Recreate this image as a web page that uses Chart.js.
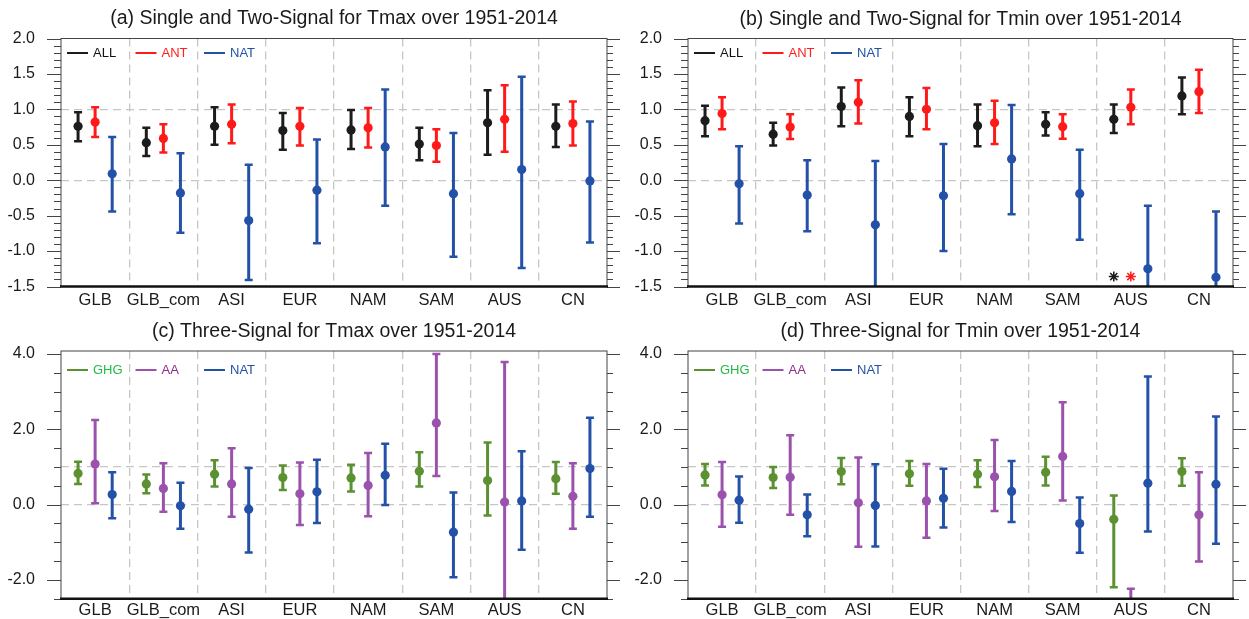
<!DOCTYPE html>
<html>
<head>
<meta charset="utf-8">
<script src="https://cdn.jsdelivr.net/npm/chart.js@4/dist/chart.umd.min.js"></script>
<style>
  body { margin: 0; background: #fff; }
  canvas { position: absolute; }
</style>
</head>
<body>
<canvas id="panelA" width="620" height="310" style="left:0;top:0"></canvas>
<canvas id="panelB" width="629" height="310" style="left:620px;top:0"></canvas>
<canvas id="panelC" width="620" height="309" style="left:0;top:310px"></canvas>
<canvas id="panelD" width="629" height="309" style="left:620px;top:310px"></canvas>
<script>
const regions = ['GLB', 'GLB_com', 'ASI', 'EUR', 'NAM', 'SAM', 'AUS', 'CN'];

// y tick labels
const twoSignalTicks = [-1.5, -1.0, -0.5, 0.0, 0.5, 1.0, 1.5, 2.0];
const threeSignalTicks = [-2.0, 0.0, 2.0, 4.0];

// (a) Tmax, single and two-signal scaling factors (best estimate, 5-95% range)
const tmaxAll     = [0.76, 0.53, 0.76, 0.70, 0.71, 0.51, 0.81, 0.76];
const tmaxAllLow  = [0.55, 0.34, 0.50, 0.43, 0.44, 0.28, 0.36, 0.47];
const tmaxAllHigh = [0.96, 0.74, 1.03, 0.95, 0.99, 0.74, 1.27, 1.07];
const tmaxAnt     = [0.82, 0.59, 0.79, 0.76, 0.74, 0.49, 0.86, 0.80];
const tmaxAntLow  = [0.61, 0.39, 0.52, 0.49, 0.46, 0.26, 0.40, 0.49];
const tmaxAntHigh = [1.03, 0.79, 1.07, 1.02, 1.02, 0.72, 1.34, 1.11];
const tmaxNat     = [0.09, -0.18, -0.57, -0.14, 0.47, -0.19, 0.15, -0.01];
const tmaxNatLow  = [-0.44, -0.74, -1.41, -0.89, -0.36, -1.08, -1.24, -0.88];
const tmaxNatHigh = [0.61, 0.38, 0.22, 0.575, 1.28, 0.665, 1.46, 0.83];

// (b) Tmin, single and two-signal
const tminAll     = [0.84, 0.65, 1.04, 0.90, 0.77, 0.79, 0.86, 1.19];
const tminAllLow  = [0.62, 0.49, 0.76, 0.62, 0.48, 0.63, 0.665, 0.93];
const tminAllHigh = [1.05, 0.81, 1.31, 1.17, 1.07, 0.96, 1.07, 1.45];
const tminAnt     = [0.94, 0.75, 1.10, 1.00, 0.81, 0.755, 1.03, 1.25];
const tminAntLow  = [0.72, 0.58, 0.80, 0.72, 0.51, 0.585, 0.79, 0.95];
const tminAntHigh = [1.17, 0.93, 1.41, 1.30, 1.12, 0.93, 1.28, 1.56];
const tminNat     = [-0.05, -0.21, -0.63, -0.22, 0.30, -0.19, -1.25, -1.37];
const tminNatLow  = [-0.61, -0.72, -1.80, -1.00, -0.48, -0.84, -2.10, -2.30];
const tminNatHigh = [0.48, 0.28, 0.27, 0.51, 1.06, 0.43, -0.36, -0.44];
// asterisks under AUS
const tminStarAll = [null, null, null, null, null, null, -1.36, null];
const tminStarAnt = [null, null, null, null, null, null, -1.36, null];

// (c) Tmax, three-signal
const tmaxGhg     = [0.83, 0.55, 0.81, 0.72, 0.71, 0.885, 0.64, 0.69];
const tmaxGhgLow  = [0.55, 0.30, 0.48, 0.39, 0.35, 0.48, -0.29, 0.29];
const tmaxGhgHigh = [1.14, 0.80, 1.18, 1.04, 1.06, 1.39, 1.65, 1.13];
const tmaxAa      = [1.08, 0.43, 0.55, 0.29, 0.51, 2.17, 0.07, 0.22];
const tmaxAaLow   = [0.035, -0.19, -0.32, -0.54, -0.31, 0.76, -3.50, -0.64];
const tmaxAaHigh  = [2.25, 1.10, 1.50, 1.12, 1.37, 4.00, 3.79, 1.10];
const tmaxNat3     = [0.27, -0.03, -0.12, 0.34, 0.78, -0.73, 0.10, 0.96];
const tmaxNat3Low  = [-0.36, -0.64, -1.27, -0.49, -0.01, -1.93, -1.20, -0.32];
const tmaxNat3High = [0.86, 0.58, 0.97, 1.19, 1.62, 0.32, 1.42, 2.31];

// (d) Tmin, three-signal
const tminGhg     = [0.79, 0.72, 0.88, 0.82, 0.81, 0.86, -0.39, 0.88];
const tminGhgLow  = [0.51, 0.44, 0.54, 0.50, 0.47, 0.51, -2.19, 0.50];
const tminGhgHigh = [1.08, 1.00, 1.24, 1.16, 1.18, 1.27, 0.24, 1.23];
const tminAa      = [0.26, 0.73, 0.05, 0.10, 0.74, 1.28, -3.20, -0.27];
const tminAaLow   = [-0.59, -0.27, -1.12, -0.88, -0.17, 0.11, -4.20, -1.51];
const tminAaHigh  = [1.13, 1.84, 1.25, 1.08, 1.72, 2.72, -2.23, 0.86];
const tminNat3     = [0.12, -0.27, -0.02, 0.17, 0.35, -0.50, 0.57, 0.54];
const tminNat3Low  = [-0.48, -0.84, -1.11, -0.61, -0.46, -1.28, -0.71, -1.04];
const tminNat3High = [0.75, 0.27, 1.07, 0.95, 1.16, 0.19, 3.40, 2.34];

const FONT = '"Liberation Sans", Arial, Helvetica, sans-serif';
Chart.defaults.font.family = FONT;
const dodge = [-0.25, 0, 0.25];
const gridGrey = '#c6c6c6';

// whiskers with caps, drawn under the dots
const errorBars = {
  id: 'errorBars',
  beforeDatasetsDraw(chart) {
    const { ctx, chartArea: a, scales: { x, y } } = chart;
    ctx.save();
    ctx.beginPath();
    ctx.rect(a.left, a.top, a.width, a.height);
    ctx.clip();
    chart.data.datasets.forEach(ds => {
      if (!ds.low) return;
      ctx.strokeStyle = ds.backgroundColor;
      ds.data.forEach((p, i) => {
        const px = x.getPixelForValue(p.x);
        const lo = y.getPixelForValue(ds.low[i]);
        const hi = y.getPixelForValue(ds.high[i]);
        ctx.lineWidth = 3;
        ctx.beginPath();
        ctx.moveTo(px, lo);
        ctx.lineTo(px, hi);
        ctx.stroke();
        ctx.lineWidth = 2.5;
        ctx.beginPath();
        ctx.moveTo(px - 4, lo); ctx.lineTo(px + 4, lo);
        ctx.moveTo(px - 4, hi); ctx.lineTo(px + 4, hi);
        ctx.stroke();
      });
    });
    ctx.restore();
  }
};

// box round the plot + tick marks on both sides
const frame = {
  id: 'frame',
  afterDraw(chart) {
    const { ctx, chartArea: a, scales: { y } } = chart;
    ctx.save();
    ctx.strokeStyle = '#444';
    ctx.lineWidth = 1;
    ctx.strokeRect(a.left, a.top, a.width, a.height);
    y.ticks.forEach(t => {
      const py = Math.round(y.getPixelForValue(t.value)) + 0.5;
      const len = t.label ? 14 : 7;
      ctx.beginPath();
      ctx.moveTo(a.left - len, py); ctx.lineTo(a.left, py);
      ctx.moveTo(a.right, py); ctx.lineTo(a.right + len - 1, py);
      ctx.stroke();
    });
    ctx.strokeStyle = '#111';
    ctx.lineWidth = 2.5;
    ctx.beginPath();
    ctx.moveTo(a.left - 1, a.bottom);
    ctx.lineTo(a.right + 1, a.bottom);
    ctx.stroke();
    ctx.restore();
  }
};

// legend inside the top-left corner
const insetLegend = {
  id: 'insetLegend',
  afterDraw(chart, args, opts) {
    const { ctx, chartArea: a } = chart;
    const y = a.top + opts.top;
    ctx.save();
    ctx.font = '13px ' + FONT;
    ctx.textBaseline = 'middle';
    chart.data.datasets.filter(d => d.legendText).forEach((d, k) => {
      const x0 = a.left + 6 + k * 68.5;
      ctx.strokeStyle = d.backgroundColor;
      ctx.lineWidth = 2;
      ctx.beginPath();
      ctx.moveTo(x0, y);
      ctx.lineTo(x0 + 21, y);
      ctx.stroke();
      ctx.fillStyle = d.legendText;
      ctx.fillText(d.label, x0 + 26, y + 0.5);
    });
    ctx.restore();
  }
};

function series(label, best, low, high, k, color, textColor) {
  return {
    label: label,
    data: best.map((v, i) => ({ x: i + dodge[k], y: v })),
    low: low,
    high: high,
    backgroundColor: color,
    borderColor: color,
    borderWidth: 0,
    pointRadius: 4.6,
    legendText: textColor
  };
}

function stars(values, k, color) {
  const pts = [];
  values.forEach((v, i) => { if (v !== null) pts.push({ x: i + dodge[k], y: v }); });
  return {
    label: '*',
    data: pts,
    pointStyle: 'star',
    pointRadius: 5,
    borderWidth: 1.5,
    borderColor: color,
    backgroundColor: color
  };
}

function isMajor(v, majors) {
  return majors.some(m => Math.abs(m - v) < 1e-6);
}

function makePanel(id, title, datasets, yMin, yMax, yStep, majors, p) {
  return new Chart(document.getElementById(id), {
    type: 'scatter',
    data: { datasets: datasets },
    plugins: [errorBars, frame, insetLegend],
    options: {
      responsive: false,
      animation: false,
      events: [],
      layout: { padding: { left: 0, right: p.right, top: 0, bottom: 0 } },
      plugins: {
        legend: { display: false },
        tooltip: { enabled: false },
        title: {
          display: true,
          text: title,
          fullSize: false,
          color: '#1a1a1a',
          font: { size: 19.5, weight: 'normal' },
          padding: { top: p.titleTop, bottom: p.titleBottom }
        },
        insetLegend: { top: p.legendTop }
      },
      scales: {
        x: {
          type: 'linear',
          min: -0.5,
          max: regions.length - 0.5,
          afterBuildTicks: s => {
            s.ticks = [];
            for (let v = -0.5; v <= regions.length - 0.5; v += 0.5) s.ticks.push({ value: v });
          },
          afterFit: s => { s.height = p.xHeight; },
          ticks: {
            autoSkip: false,
            maxRotation: 0,
            minRotation: 0,
            padding: p.xPad,
            color: '#1a1a1a',
            font: { size: 16.5 },
            callback: v => Number.isInteger(v) ? regions[v] : ''
          },
          grid: {
            drawTicks: false,
            lineWidth: 1.3,
            color: c => {
              const v = c.tick ? c.tick.value : -0.5;
              return (v > -0.5 && v < regions.length - 0.5 && !Number.isInteger(v)) ? gridGrey : 'transparent';
            }
          },
          border: { display: false, dash: [8, 5] }
        },
        y: {
          min: yMin,
          max: yMax,
          afterBuildTicks: s => {
            s.ticks = [];
            const n = Math.floor((yMax - yMin) / yStep + 1e-6);
            for (let i = 0; i <= n; i++) s.ticks.push({ value: +(yMin + i * yStep).toFixed(2) });
          },
          afterFit: s => { s.width = p.yWidth; },
          ticks: {
            autoSkip: false,
            padding: 4,
            color: '#1a1a1a',
            font: { size: 16 },
            callback: v => isMajor(v, majors) ? v.toFixed(1) : ''
          },
          grid: {
            drawTicks: true,
            tickLength: 22,
            tickColor: 'transparent',
            lineWidth: 1.3,
            color: c => {
              const v = c.tick ? c.tick.value : 99;
              return (Math.abs(v) < 1e-6 || Math.abs(v - 1) < 1e-6) ? gridGrey : 'transparent';
            }
          },
          border: { display: false, dash: [8, 5] }
        }
      }
    }
  });
}

const BLACK = '#1c1c1c', RED = '#ff1a1a', BLUE = '#2451a8';
const GREEN = '#5b9130', PURPLE = '#9b52ac';

const topLeft = { right: 13, yWidth: 61, xHeight: 23.5, xPad: 4.5, titleTop: 6.8, titleBottom: 8.3, legendTop: 14.5 };
const topRight = { right: 16, yWidth: 68, xHeight: 23.5, xPad: 4.5, titleTop: 7.5, titleBottom: 7.6, legendTop: 14.5 };
const botLeft = { right: 13, yWidth: 61, xHeight: 20.2, xPad: 1.5, titleTop: 9.8, titleBottom: 7.8, legendTop: 19 };
const botRight = { right: 16, yWidth: 68, xHeight: 20.2, xPad: 1.5, titleTop: 9.8, titleBottom: 7.8, legendTop: 19 };

makePanel('panelA', '(a) Single and Two-Signal for Tmax over 1951-2014', [
  series('ALL', tmaxAll, tmaxAllLow, tmaxAllHigh, 0, BLACK, '#111'),
  series('ANT', tmaxAnt, tmaxAntLow, tmaxAntHigh, 1, RED, '#ff2020'),
  series('NAT', tmaxNat, tmaxNatLow, tmaxNatHigh, 2, BLUE, BLUE)
], -1.5, 2.0, 0.1, twoSignalTicks, topLeft);

makePanel('panelB', '(b) Single and Two-Signal for Tmin over 1951-2014', [
  series('ALL', tminAll, tminAllLow, tminAllHigh, 0, BLACK, '#111'),
  series('ANT', tminAnt, tminAntLow, tminAntHigh, 1, RED, '#ff2020'),
  series('NAT', tminNat, tminNatLow, tminNatHigh, 2, BLUE, BLUE),
  stars(tminStarAll, 0, BLACK),
  stars(tminStarAnt, 1, RED)
], -1.5, 2.0, 0.1, twoSignalTicks, topRight);

makePanel('panelC', '(c) Three-Signal for Tmax over 1951-2014', [
  series('GHG', tmaxGhg, tmaxGhgLow, tmaxGhgHigh, 0, GREEN, '#22bb44'),
  series('AA', tmaxAa, tmaxAaLow, tmaxAaHigh, 1, PURPLE, '#902b8c'),
  series('NAT', tmaxNat3, tmaxNat3Low, tmaxNat3High, 2, BLUE, BLUE)
], -2.5, 4.08, 0.5, threeSignalTicks, botLeft);

makePanel('panelD', '(d) Three-Signal for Tmin over 1951-2014', [
  series('GHG', tminGhg, tminGhgLow, tminGhgHigh, 0, GREEN, '#22bb44'),
  series('AA', tminAa, tminAaLow, tminAaHigh, 1, PURPLE, '#902b8c'),
  series('NAT', tminNat3, tminNat3Low, tminNat3High, 2, BLUE, BLUE)
], -2.5, 4.08, 0.5, threeSignalTicks, botRight);
</script>
</body>
</html>
